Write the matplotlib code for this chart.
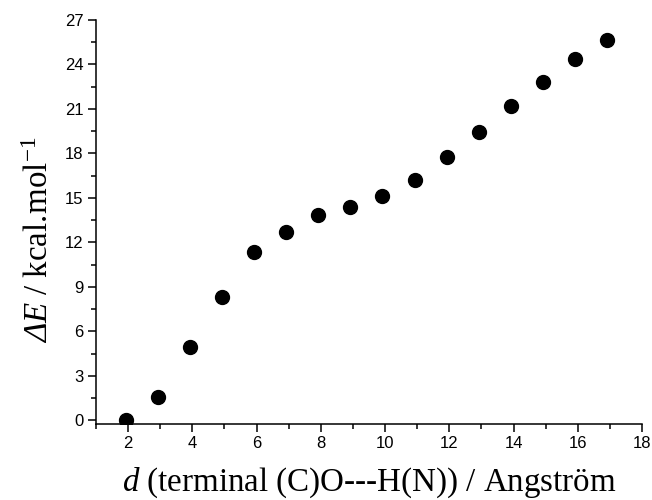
import matplotlib
matplotlib.use("Agg")
import matplotlib.pyplot as plt
from matplotlib.ticker import MultipleLocator

plt.rcParams['mathtext.fontset'] = 'custom'
plt.rcParams['mathtext.rm'] = 'Liberation Serif:italic'
plt.rcParams['mathtext.it'] = 'Liberation Serif:italic'
plt.rcParams['mathtext.sf'] = 'Liberation Serif'
plt.rcParams['mathtext.bf'] = 'Liberation Serif:bold'

d_values = [1.92, 2.92, 3.92, 4.92, 5.92, 6.92, 7.92, 8.92, 9.92, 10.92,
            11.92, 12.92, 13.92, 14.92, 15.92, 16.92]
dE_values = [0.05, 1.59, 4.94, 8.30, 11.33, 12.68, 13.82, 14.41, 15.10, 16.23,
             17.75, 19.43, 21.18, 22.84, 24.37, 25.67]

fig = plt.figure(figsize=(6.52, 5.0), dpi=100)
ax = fig.add_axes([96/652, 1-424/500, (642-96)/652, (424-20)/500])

ax.plot(d_values, dE_values, 'o', color='black', markersize=10, linestyle='none')

ax.set_xlim(1, 18)
ax.set_ylim(-0.25, 27)
ax.xaxis.set_major_locator(MultipleLocator(2))
ax.xaxis.set_minor_locator(MultipleLocator(1))
ax.yaxis.set_major_locator(MultipleLocator(3))
ax.yaxis.set_minor_locator(MultipleLocator(1.5))

for s in ['top', 'right']:
    ax.spines[s].set_visible(False)
for s in ['left', 'bottom']:
    ax.spines[s].set_linewidth(1.1)

ax.tick_params(which='major', direction='out', length=6, width=1.1,
               labelsize=12, pad=3)
ax.tick_params(which='minor', direction='out', length=3.5, width=1.1)
for lab in ax.get_xticklabels() + ax.get_yticklabels():
    lab.set_fontfamily('Liberation Sans')

ax.set_xlabel(r'$d$ (terminal (C)O---H(N)) / Angström',
              fontsize=23.8, fontfamily='Liberation Serif', labelpad=10)
ax.set_ylabel(r'$\Delta E\ \mathsf{/\ kcal.\!mol^{-1}}$',
              fontsize=23.8, fontfamily='Liberation Serif')
ax.yaxis.set_label_coords(-0.075, 0.455)

fig.savefig('out.png', dpi=100)
